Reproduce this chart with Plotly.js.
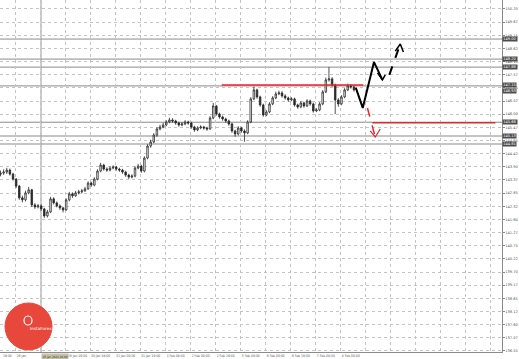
<!DOCTYPE html>
<html><head><meta charset="utf-8">
<script src="https://cdn.plot.ly/plotly-3.0.1.min.js"></script>
<style>html,body{margin:0;padding:0;background:#fff;}#chart{width:519px;height:359px;}</style>
</head><body><div id="chart"></div>
<script>
// 2-hour candles
const firstOpen = 143.60;
const closes = [143.65,143.69,143.77,143.61,143.41,143.13,142.66,142.58,142.86,142.98,
142.38,142.30,142.34,142.22,141.94,142.10,142.62,142.46,142.34,142.26,
142.18,142.58,142.82,142.74,142.86,142.90,142.94,143.02,143.25,143.17,
143.41,143.73,143.97,143.81,143.77,143.85,143.89,143.81,143.77,143.69,
143.57,143.49,143.53,143.85,143.93,143.73,144.25,144.73,144.89,145.17,
145.41,145.49,145.57,145.69,145.77,145.73,145.65,145.57,145.61,145.69,
145.65,145.49,145.37,145.45,145.49,145.45,145.41,145.85,146.33,146.01,
145.89,145.81,145.73,145.61,145.33,145.21,145.45,145.33,145.25,145.69,
146.61,146.97,146.69,146.37,145.97,146.09,146.41,146.65,146.81,146.85,
146.73,146.65,146.57,146.61,146.37,146.29,146.45,146.33,146.53,146.41,
146.13,146.17,146.41,146.89,147.37,147.41,147.17,146.57,146.41,146.69,
146.97,147.13,147.09,146.97];
const highs = [143.75,143.80,143.86,143.83,143.66,143.45,143.18,142.75,142.95,143.10,
143.02,142.45,142.42,142.40,142.26,142.18,142.70,142.68,142.52,142.40,
142.30,142.64,142.90,142.88,142.94,142.98,143.02,143.10,143.32,143.30,
143.48,143.80,144.06,144.02,143.88,143.92,143.96,143.94,143.86,143.82,
143.74,143.62,143.60,143.92,144.02,143.98,144.32,144.80,144.98,145.24,
145.48,145.58,145.66,145.76,145.86,145.84,145.78,145.70,145.68,145.76,
145.74,145.70,145.54,145.52,145.56,145.54,145.50,145.92,146.45,146.36,
146.06,145.94,145.86,145.78,145.66,145.38,145.52,145.50,145.40,145.76,
146.68,147.10,147.02,146.74,146.42,146.16,146.48,146.72,146.90,146.94,
146.92,146.80,146.70,146.68,146.66,146.42,146.52,146.50,146.60,146.58,
146.46,146.24,146.48,146.96,147.46,147.88,147.48,147.22,146.64,146.76,
147.04,147.22,147.20,147.14];
const lows = [143.52,143.58,143.62,143.55,143.35,143.05,142.58,142.48,142.52,142.80,
142.30,142.22,142.24,142.14,141.86,141.88,142.05,142.40,142.28,142.18,
142.08,142.14,142.52,142.66,142.70,142.80,142.84,142.90,142.98,143.10,
143.12,143.36,143.68,143.75,143.70,143.72,143.80,143.74,143.70,143.62,
143.50,143.42,143.44,143.48,143.80,143.66,143.68,144.20,144.66,144.84,
145.10,145.36,145.44,145.52,145.64,145.66,145.58,145.50,145.52,145.56,
145.58,145.42,145.30,145.32,145.40,145.38,145.34,145.38,145.80,145.94,
145.82,145.74,145.66,145.54,145.26,145.10,145.16,145.26,144.90,145.20,
145.64,146.56,146.62,146.30,145.90,145.92,146.04,146.36,146.60,146.76,
146.66,146.58,146.50,146.52,146.30,146.22,146.24,146.26,146.28,146.34,
146.06,146.08,146.12,146.36,146.84,147.30,147.10,146.00,146.30,146.36,
146.64,146.92,147.02,146.90];
const opens = closes.map((c,i)=> i===0 ? firstOpen : closes[i-1]);
const candleIdx = closes.map((_,i)=>i);

// price scale labels
const priceTicks = [150.200,149.675,149.150,148.625,148.100,147.575,147.050,146.525,146.000,145.475,
144.950,144.425,143.900,143.375,142.850,142.325,141.800,141.275,140.750,140.225,139.700,139.175,
138.650,138.125,137.600,137.075,136.550];
const priceText = ["150.20","149.67","149.15","148.62","148.10","147.57","147.05","146.52","146.00","145.47",
"144.95","144.42","143.90","143.37","142.85","142.32","141.80","141.27","140.75","140.22","139.70","139.17",
"138.65","138.12","137.60","137.07","136.55"];

// time labels (every 16h = 8 candles)
const timeGridIdx = [4.64,12.64,20.64,28.64,36.64,44.64,52.64,60.64,68.64,76.64,84.64,92.64,100.64,108.64,116.64,124.64,132.64,140.64,148.64,156.64];
const timeLabelIdx = [2.2,6.7,24.6,32.0,40.0,48.0,56.0,64.0,72.0,80.0,88.0,96.0,104.0,112.0];
const timeLabels = ["16:00","26 Jan","29 Jan 16:00","30 Jan 08:00","31 Jan 00:00","31 Jan 16:00","1 Feb 08:00","2 Feb 00:00","2 Feb 16:00","5 Feb 08:00","6 Feb 00:00","6 Feb 16:00","7 Feb 08:00","8 Feb 00:00"];

// horizontal levels
const grayLevels = [149.00,148.20,147.88,147.13,145.68,145.13,144.81];
const boxLevels = [149.00,148.20,147.88,147.15,146.93,145.68,145.13,144.81];
const boxText = ["149.00","148.20","147.88","147.15","146.93","145.68","145.13","144.81"];
const redLeft = {x0:70.7, x1:116.0, y:147.17};
const redRight = {x0:118.9, x1:158.2, y:145.66};
const separatorIdx = 12.96;

// forecast drawing
const blackX = [113.6,115.8,119.4,122.1];
const blackY = [147.05,146.25,148.08,147.37];
const blackHeadX = [120.5,122.1,123.0];
const blackHeadY = [147.65,147.37,147.57];
const dashX = [124.3,127.8];
const dashY = [147.57,148.80];
const dashHeadX = [126.2,127.8,128.8];
const dashHeadY = [148.52,148.80,148.48];
const redX = [117.3,119.8];
const redY = [146.25,145.09];
const redHeadX = [118.2,119.8,121.4];
const redHeadY = [145.33,145.09,145.41];

const F = "DejaVu Sans, sans-serif";
const FN = "Liberation Sans Narrow, DejaVu Sans Condensed, Liberation Sans, sans-serif";

const traces = [
 {type:'candlestick', x:candleIdx, open:opens, high:highs, low:lows, close:closes,
  increasing:{line:{color:'#2a2a2a', width:0.8}, fillcolor:'#ffffff'},
  decreasing:{line:{color:'#2a2a2a', width:0.8}, fillcolor:'#2a2a2a'},
  whiskerwidth:0, hoverinfo:'skip', showlegend:false},
 {type:'scatter', mode:'lines', x:blackX, y:blackY, line:{color:'#000', width:2}, hoverinfo:'skip', showlegend:false},
 {type:'scatter', mode:'lines', x:blackHeadX, y:blackHeadY, line:{color:'#000', width:1.5}, hoverinfo:'skip', showlegend:false},
 {type:'scatter', mode:'lines', x:dashX, y:dashY, line:{color:'#000', width:2, dash:'dash'}, hoverinfo:'skip', showlegend:false},
 {type:'scatter', mode:'lines', x:dashHeadX, y:dashHeadY, line:{color:'#000', width:1.5}, hoverinfo:'skip', showlegend:false},
 {type:'scatter', mode:'lines', x:redX, y:redY, line:{color:'#e8262a', width:1.5, dash:'dash'}, hoverinfo:'skip', showlegend:false},
 {type:'scatter', mode:'lines', x:redHeadX, y:redHeadY, line:{color:'#e8262a', width:1.2}, hoverinfo:'skip', showlegend:false}
];

const shapes = [];
grayLevels.forEach(v=>shapes.push({type:'line', xref:'paper', x0:0, x1:1, yref:'y', y0:v, y1:v, line:{color:'#8a8a8a', width:1}, layer:'below'}));
shapes.push({type:'line', xref:'x', x0:separatorIdx, x1:separatorIdx, yref:'paper', y0:0, y1:1, line:{color:'#9a9a9a', width:1}, layer:'below'});
shapes.push({type:'line', xref:'x', x0:redLeft.x0, x1:redLeft.x1, yref:'y', y0:redLeft.y, y1:redLeft.y, line:{color:'#e8262a', width:1.5}});
shapes.push({type:'line', xref:'x', x0:redRight.x0, x1:redRight.x1, yref:'y', y0:redRight.y, y1:redRight.y, line:{color:'#e8262a', width:1.5}});
// logo badge
shapes.push({type:'circle', xref:'paper', yref:'paper', x0:5/502, x1:52/502, y0:1-350/352, y1:1-303/352, fillcolor:'#e8473b', line:{color:'#e8473b', width:1}});
shapes.push({type:'circle', xref:'paper', yref:'paper', x0:24/502, x1:32/502, y0:1-325/352, y1:1-316/352, fillcolor:'rgba(0,0,0,0)', line:{color:'#ffffff', width:1.2}});

const annotations = boxLevels.map((v,i)=>({xref:'paper', x:1, xanchor:'left', xshift:0, yref:'y', y:v, text:boxText[i],
  showarrow:false, font:{family:F, size:3.6, color:'#ffffff'}, bgcolor:'#4d4d4d', borderpad:0.2}));
annotations.push({xref:'paper', x:41/502, yref:'paper', y:0, yanchor:'top', yshift:-1, text:'26 Jan 2024 20:00', showarrow:false,
  font:{family:FN, size:3.0, color:'#333'}, bgcolor:'#c5c2a6', borderpad:0.6});
annotations.push({xref:'paper', x:28/502, yref:'paper', y:1-333/352, text:'InstaForex', showarrow:false,
  font:{family:F, size:4.2, color:'#ffffff'}});

const layout = {
  width:519, height:359, margin:{l:0, r:17, t:0, b:7},
  paper_bgcolor:'#ffffff', plot_bgcolor:'#ffffff',
  showlegend:false, hovermode:false, dragmode:false,
  xaxis:{range:[-0.16,160.32], rangeslider:{visible:false}, tickmode:'array', tickvals:timeLabelIdx, ticktext:timeLabels,
    showgrid:false, zeroline:false, showline:true, linecolor:'#8a8a8a', linewidth:1, ticks:'', ticklen:0,
    tickfont:{family:FN, size:3.4, color:'#555'}, tickangle:0, automargin:false, ticklabeloverflow:'allow',
    minor:{tickmode:'array', tickvals:timeGridIdx, showgrid:true, gridcolor:'#c4c4c4', griddash:'dot', gridwidth:1, ticks:''}},
  yaxis:{range:[136.507,150.559], side:'right', tickmode:'array', tickvals:priceTicks, ticktext:priceText,
    showgrid:true, gridcolor:'#c4c4c4', griddash:'dot', gridwidth:1, zeroline:false, automargin:false,
    showline:true, linecolor:'#8a8a8a', linewidth:1, ticks:'outside', ticklen:1.5, tickcolor:'#8a8a8a',
    tickfont:{family:F, size:3.6, color:'#555'}},
  shapes:shapes, annotations:annotations
};

Plotly.newPlot('chart', traces, layout, {displayModeBar:false, staticPlot:true});
</script></body></html>
